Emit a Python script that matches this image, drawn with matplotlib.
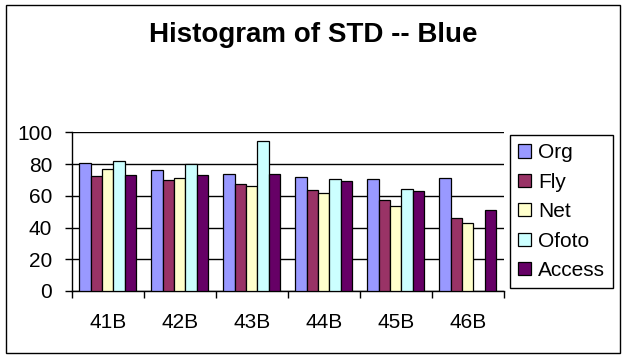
import numpy as np
import matplotlib
matplotlib.use('Agg')
import matplotlib.pyplot as plt
from matplotlib.patches import Rectangle

plt.rcParams['font.family'] = ['Liberation Sans', 'DejaVu Sans']

categories = ['41B', '42B', '43B', '44B', '45B', '46B']
series = ['Org', 'Fly', 'Net', 'Ofoto', 'Access']
org = [80.5, 76.1, 73.5, 71.6, 70.4, 71.0]
fly = [72.3, 69.7, 67.2, 63.4, 57.1, 45.8]
net = [76.7, 71.0, 66.0, 61.6, 53.4, 42.6]
ofoto = [81.7, 79.8, 94.3, 70.4, 64.1, np.nan]
access = [72.9, 72.9, 73.5, 69.1, 62.8, 50.8]
colors = ['#9999FF', '#993366', '#FFFFCC', '#CCFFFF', '#660066']

W, H = 626, 358
fig = plt.figure(figsize=(W / 100, H / 100), dpi=100)
ax = fig.add_axes([71.7 / W, (H - 291) / H, 432 / W, 158.7 / H])

x = np.arange(len(categories))
bw = 0.157
for i, (name, vals, c) in enumerate(zip(series, [org, fly, net, ofoto, access], colors)):
    ax.bar(x + (i - 2) * bw, vals, bw, color=c, edgecolor='black', linewidth=0.9,
           label=name, zorder=3)

ax.set_xlim(-0.5, len(categories) - 0.5)
ax.set_ylim(0, 100)
ax.set_yticks(range(0, 101, 20))
ax.yaxis.grid(True, color='black', linewidth=1.0, zorder=0)
ax.set_axisbelow(True)
for s in ['top', 'right']:
    ax.spines[s].set_visible(False)
for s in ['left', 'bottom']:
    ax.spines[s].set_linewidth(1.0)

ax.set_xticks(np.arange(-0.5, len(categories), 1.0))
ax.set_xticklabels([])
ax.set_xticks(x, minor=True)
ax.set_xticklabels(categories, minor=True)
ax.tick_params(axis='x', which='major', direction='out', length=5, width=1)
ax.tick_params(axis='x', which='minor', length=0, pad=16, labelsize=15)
ax.tick_params(axis='y', direction='out', length=5, width=1, pad=9, labelsize=15)

fig.text(313 / W, (H - 41.7) / H, 'Histogram of STD -- Blue', ha='center',
         va='baseline', fontsize=20, fontweight='bold')

leg = fig.legend(loc='upper left', bbox_to_anchor=(510 / W, (H - 135) / H),
                 bbox_transform=fig.transFigure, borderaxespad=0, fontsize=15,
                 handlelength=0.6, handleheight=0.6, handletextpad=0.35,
                 labelspacing=0.5, fancybox=False, framealpha=1,
                 edgecolor='black', borderpad=0.4)
leg.get_frame().set_linewidth(1.0)

fig.patches.append(Rectangle((6 / W, 5 / H), 614 / W, 348 / H, fill=False,
                             edgecolor='black', linewidth=1.0,
                             transform=fig.transFigure, figure=fig))

fig.savefig('out.png', dpi=100)
